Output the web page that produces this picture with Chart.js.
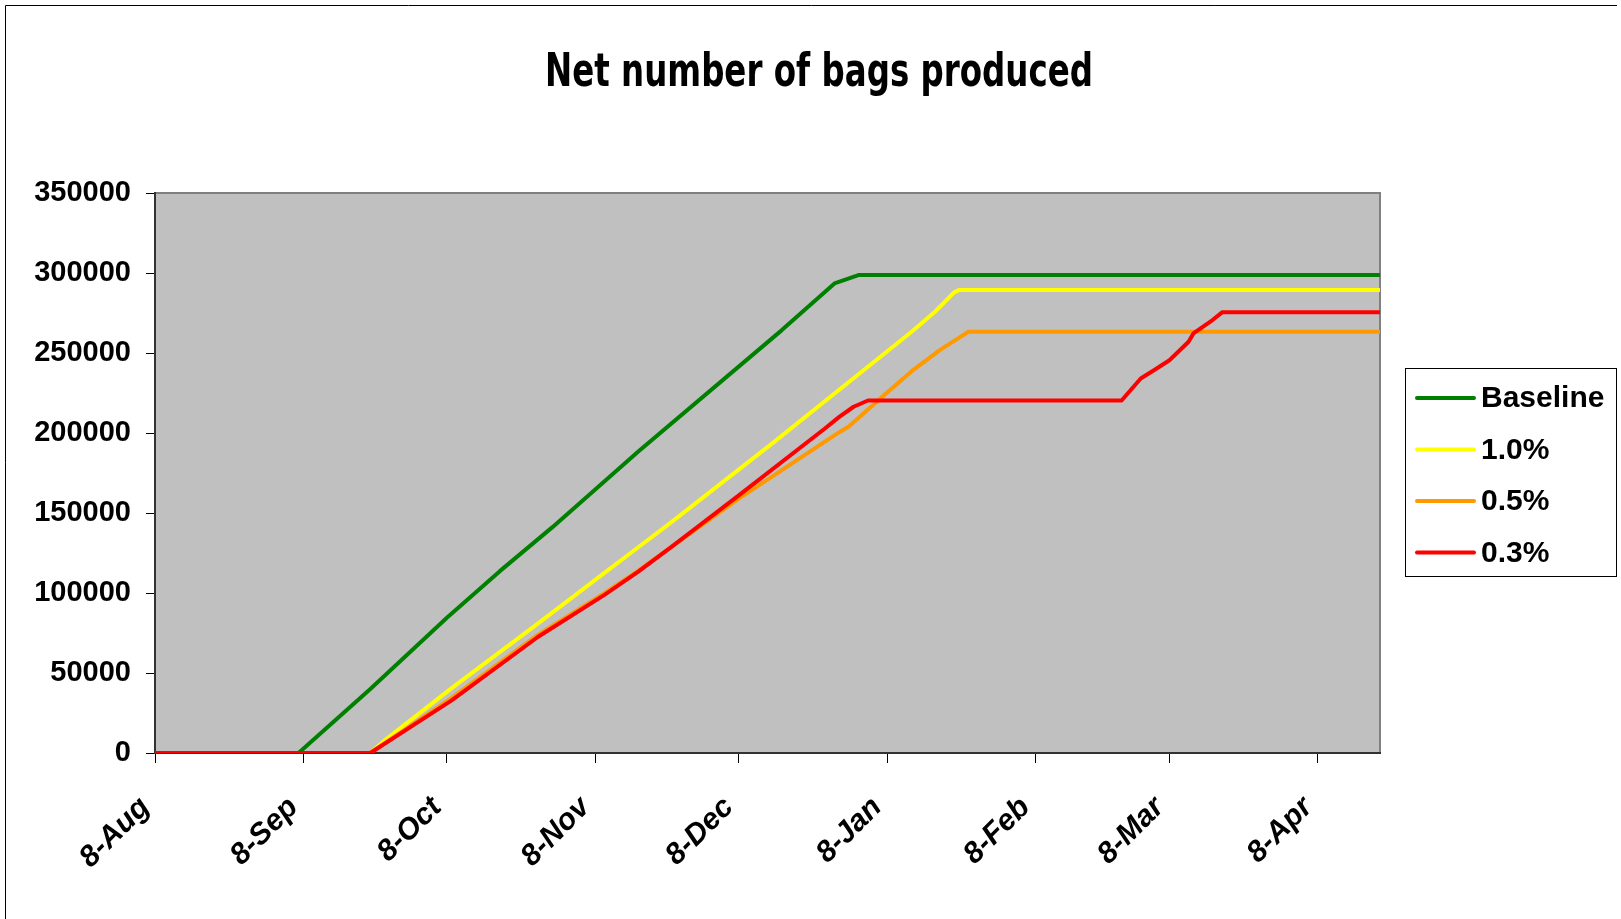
<!DOCTYPE html>
<html>
<head>
<meta charset="utf-8">
<title>Net number of bags produced</title>
<script src="https://cdn.jsdelivr.net/npm/chart.js@4.4.1/dist/chart.umd.min.js"></script>
<style>
  html, body { margin: 0; padding: 0; background: #ffffff; }
  canvas { display: block; }
</style>
</head>
<body>
<canvas id="bags" width="1621" height="919"></canvas>
<script>
// ---- chart text ----
const titleText = 'Net number of bags produced';

// ---- x axis: days counted from 8 Aug, ticks on the 8th of each month ----
const tickDays   = [0, 31, 61, 92, 122, 153, 184, 212, 243];
const tickLabels = ['8-Aug', '8-Sep', '8-Oct', '8-Nov', '8-Dec', '8-Jan', '8-Feb', '8-Mar', '8-Apr'];
const lastDay = 256;

// ---- y axis ----
const yMax = 350000;
const yStep = 50000;

// ---- series ----
const seriesNames  = ['Baseline', '1.0%', '0.5%', '0.3%'];
const seriesColors = ['#008000', '#FFFF00', '#FF9900', '#FF0000'];

const baselineDays = [0, 30, 45, 61, 72, 83, 101, 131, 142, 147, 256];
const baselineBags = [0, 0, 40000, 84500, 113500, 141000, 188500, 264300, 293500, 298700, 298700];

const pct10Days = [0, 45, 48, 62, 80, 94, 101, 108, 129, 158, 163, 167, 168, 256];
const pct10Bags = [0, 0, 7900, 40500, 80900, 112700, 128600, 144500, 193500, 263000, 275800, 287900, 289300, 289300];

const pct05Days = [0, 45, 62, 80, 94, 101, 122, 143, 145, 152, 158, 164, 167, 170, 256];
const pct05Bags = [0, 0, 34500, 73800, 100000, 114000, 159000, 200500, 204000, 222600, 238300, 251800, 257600, 263300, 263300];

const pct03Days = [0, 45, 62, 80, 94, 101, 108, 122, 140, 143, 146, 149, 202, 206, 209, 212, 216, 217, 221, 223, 256];
const pct03Bags = [0, 0, 32900, 72500, 99000, 113300, 129000, 161000, 202800, 210100, 216400, 220300, 220300, 234100, 239700, 245500, 257000, 262200, 270600, 275400, 275400];

const seriesDays = [baselineDays, pct10Days, pct05Days, pct03Days];
const seriesBags = [baselineBags, pct10Bags, pct05Bags, pct03Bags];

const toPoints = (days, bags) => days.map((d, i) => ({ x: d, y: bags[i] }));

// later series sit on top of earlier ones
const datasets = seriesNames.map((name, i) => ({
  label: name,
  data: toPoints(seriesDays[i], seriesBags[i]),
  borderColor: seriesColors[i],
  backgroundColor: seriesColors[i],
  order: seriesNames.length - i
}));

const FONT = '"Liberation Sans", Arial, Helvetica, sans-serif';

// grey plot area with its frame
const plotBackground = {
  id: 'plotBackground',
  beforeDraw(chart) {
    const { ctx, chartArea: a } = chart;
    ctx.save();
    ctx.fillStyle = '#C0C0C0';
    ctx.fillRect(a.left, a.top, a.right - a.left, a.bottom - a.top);
    ctx.strokeStyle = '#808080';
    ctx.lineWidth = 2;
    ctx.strokeRect(a.left, a.top, a.right - a.left, a.bottom - a.top);
    ctx.restore();
  }
};

// outer frame and title
const frameAndTitle = {
  id: 'frameAndTitle',
  afterDraw(chart) {
    const ctx = chart.ctx;
    ctx.save();
    ctx.strokeStyle = '#000';
    ctx.lineWidth = 1;
    ctx.beginPath();
    ctx.moveTo(5.5, 919);
    ctx.lineTo(5.5, 5.5);
    ctx.lineTo(1617, 5.5);
    ctx.stroke();

    ctx.font = 'bold 46px "Comic Sans MS", "DejaVu Sans", sans-serif';
    const w = ctx.measureText(titleText).width;
    ctx.translate(819, 86);
    ctx.scale(548 / w, 1);
    ctx.textAlign = 'center';
    ctx.textBaseline = 'alphabetic';
    ctx.fillStyle = '#000';
    ctx.fillText(titleText, 0, 0);
    ctx.restore();
  }
};

// boxed legend to the right of the plot
const boxedLegend = {
  id: 'boxedLegend',
  afterDraw(chart) {
    const ctx = chart.ctx;
    const box = { x: 1405.5, y: 368.5, w: 211, h: 208 };
    ctx.save();
    ctx.fillStyle = '#fff';
    ctx.fillRect(box.x, box.y, box.w, box.h);
    ctx.strokeStyle = '#000';
    ctx.lineWidth = 1;
    ctx.strokeRect(box.x, box.y, box.w, box.h);
    ctx.font = 'bold 30px ' + FONT;
    ctx.textAlign = 'left';
    ctx.textBaseline = 'middle';
    chart.data.datasets.forEach((ds, i) => {
      const y = 398 + i * 51.5;
      ctx.strokeStyle = ds.borderColor;
      ctx.lineWidth = 4;
      ctx.lineCap = 'round';
      ctx.beginPath();
      ctx.moveTo(1417, y);
      ctx.lineTo(1474, y);
      ctx.stroke();
      ctx.fillStyle = '#000';
      ctx.fillText(ds.label, 1481, y + 1);
    });
    ctx.restore();
  }
};

new Chart(document.getElementById('bags'), {
  type: 'line',
  data: { datasets },
  options: {
    responsive: false,
    animation: false,
    events: [],
    layout: { padding: { left: 0, right: 241, top: 193, bottom: 0 } },
    plugins: {
      legend: { display: false },
      title: { display: false },
      tooltip: { enabled: false }
    },
    elements: {
      point: { radius: 0, hoverRadius: 0 },
      line: { tension: 0, borderWidth: 4, borderJoinStyle: 'round', borderCapStyle: 'butt', fill: false }
    },
    scales: {
      x: {
        type: 'linear',
        min: 0,
        max: lastDay,
        afterBuildTicks(scale) {
          scale.ticks = tickDays.map(v => ({ value: v }));
        },
        afterFit(scale) { scale.height = 166; },
        ticks: {
          autoSkip: false,
          minRotation: 45,
          maxRotation: 45,
          padding: 27,
          labelOffset: -10,
          color: '#000',
          font: { family: FONT, size: 30, weight: 'bold', style: 'italic' },
          callback: (v) => tickLabels[tickDays.indexOf(v)]
        },
        grid: { drawOnChartArea: false, drawTicks: true, tickLength: 10, color: '#000', lineWidth: 1 },
        border: { display: true, color: '#333', width: 2 }
      },
      y: {
        min: 0,
        max: yMax,
        afterFit(scale) { scale.width = 155; },
        ticks: {
          stepSize: yStep,
          padding: 15,
          color: '#000',
          font: { family: FONT, size: 29, weight: 'bold' },
          callback: (v) => String(v)
        },
        grid: { drawOnChartArea: false, drawTicks: true, tickLength: 9, color: '#000', lineWidth: 1 },
        border: { display: true, color: '#333', width: 2 }
      }
    }
  },
  plugins: [plotBackground, frameAndTitle, boxedLegend]
});
</script>
</body>
</html>
